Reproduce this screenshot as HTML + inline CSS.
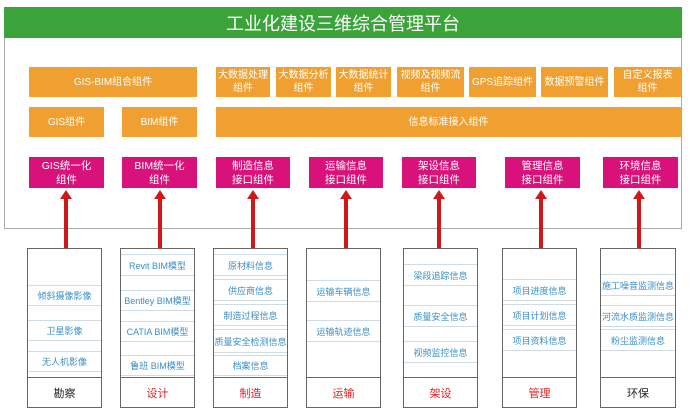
<!DOCTYPE html>
<html><head><meta charset="utf-8"><style>
body{margin:0;width:691px;height:415px;background:#fff;position:relative;overflow:hidden;font-family:"Liberation Sans","Noto Sans CJK SC",sans-serif}
div{position:absolute;box-sizing:border-box}
.o{background:#f0a030;color:#fff;font-size:10px;display:flex;align-items:center;justify-content:center;text-align:center;line-height:13px}
.m{background:#d8127a;color:#fff;font-size:10.5px;display:flex;align-items:center;justify-content:center;text-align:center;line-height:14px;top:157px;height:31px}
.col{top:248px;height:160px;border:1px solid #666;background:#fff}
.lab{left:0;right:0;bottom:0;height:30px;border-top:1px solid #666;font-size:11px;display:flex;align-items:center;justify-content:center}
.it{left:0;right:0;border-top:1px solid #cfdce6;border-bottom:1px solid #cfdce6;font-size:9px;color:#3a8fc9;display:flex;align-items:center;justify-content:center;white-space:nowrap}
.sh{width:4px;background:#d01818;top:198px;height:50px}
.hd{width:0;height:0;border-left:6px solid transparent;border-right:6px solid transparent;border-bottom:9px solid #d01818;top:190px}
</style></head><body>
<div style="left:4px;top:7px;width:678px;height:222px;border:1px solid #aaa"></div>
<div style="left:4px;top:7px;width:678px;height:31px;background:#3aa33a;color:#fff;font-size:18px;display:flex;align-items:center;justify-content:center">工业化建设三维综合管理平台</div>

<div class="o" style="left:29px;top:67px;width:168px;height:30px">GIS-BIM组合组件</div>
<div class="o" style="left:216px;top:67px;width:54px;height:30px">大数据处理<br>组件</div>
<div class="o" style="left:276px;top:67px;width:55px;height:30px">大数据分析<br>组件</div>
<div class="o" style="left:336px;top:67px;width:55px;height:30px">大数据统计<br>组件</div>
<div class="o" style="left:397px;top:67px;width:67px;height:30px">视频及视频流<br>组件</div>
<div class="o" style="left:469px;top:67px;width:67px;height:30px">GPS追踪组件</div>
<div class="o" style="left:541px;top:67px;width:67px;height:30px">数据预警组件</div>
<div class="o" style="left:614px;top:67px;width:67px;height:30px">自定义报表<br>组件</div>

<div class="o" style="left:29px;top:107px;width:75px;height:30px">GIS组件</div>
<div class="o" style="left:122px;top:107px;width:75px;height:30px">BIM组件</div>
<div class="o" style="left:216px;top:107px;width:465px;height:30px">信息标准接入组件</div>

<div class="m" style="left:29px;width:75px">GIS统一化<br>组件</div>
<div class="m" style="left:122px;width:75px">BIM统一化<br>组件</div>
<div class="m" style="left:216px;width:74px">制造信息<br>接口组件</div>
<div class="m" style="left:309px;width:74px">运输信息<br>接口组件</div>
<div class="m" style="left:402px;width:74px">架设信息<br>接口组件</div>
<div class="m" style="left:505px;width:75px">管理信息<br>接口组件</div>
<div class="m" style="left:603px;width:75px">环境信息<br>接口组件</div>

<div class="sh" style="left:64px"></div><div class="hd" style="left:60px"></div>
<div class="sh" style="left:158px"></div><div class="hd" style="left:154px"></div>
<div class="sh" style="left:251px"></div><div class="hd" style="left:247px"></div>
<div class="sh" style="left:344px"></div><div class="hd" style="left:340px"></div>
<div class="sh" style="left:437px"></div><div class="hd" style="left:433px"></div>
<div class="sh" style="left:539px"></div><div class="hd" style="left:535px"></div>
<div class="sh" style="left:637px"></div><div class="hd" style="left:633px"></div>

<div class="col" style="left:27px;width:75px">
<div class="it" style="top:36px;height:21px">倾斜摄像影像</div>
<div class="it" style="top:71px;height:21px">卫星影像</div>
<div class="it" style="top:102px;height:21px">无人机影像</div>
<div class="lab" style="color:#222">勘察</div></div>

<div class="col" style="left:120px;width:75px">
<div class="it" style="top:5px;height:22px">Revit BIM模型</div>
<div class="it" style="top:41px;height:21px">Bentley BIM模型</div>
<div class="it" style="top:72px;height:21px">CATIA BIM模型</div>
<div class="it" style="top:106px;height:21px">鲁班 BIM模型</div>
<div class="lab" style="color:#e02020">设计</div></div>

<div class="col" style="left:213px;width:75px">
<div class="it" style="top:5px;height:22px">原材料信息</div>
<div class="it" style="top:30px;height:22px">供应商信息</div>
<div class="it" style="top:55px;height:22px">制造过程信息</div>
<div class="it" style="top:80px;height:24px">质量安全检测信息</div>
<div class="it" style="top:106px;height:21px">档案信息</div>
<div class="lab" style="color:#e02020">制造</div></div>

<div class="col" style="left:306px;width:75px">
<div class="it" style="top:31px;height:22px">运输车辆信息</div>
<div class="it" style="top:71px;height:22px">运输轨迹信息</div>
<div class="lab" style="color:#e02020">运输</div></div>

<div class="col" style="left:403px;width:75px">
<div class="it" style="top:15px;height:22px">梁段追踪信息</div>
<div class="it" style="top:56px;height:22px">质量安全信息</div>
<div class="it" style="top:92px;height:22px">视频监控信息</div>
<div class="lab" style="color:#e02020">架设</div></div>

<div class="col" style="left:502px;width:75px">
<div class="it" style="top:30px;height:22px">项目进度信息</div>
<div class="it" style="top:55px;height:22px">项目计划信息</div>
<div class="it" style="top:80px;height:22px">项目资料信息</div>
<div class="lab" style="color:#e02020">管理</div></div>

<div class="col" style="left:600px;width:76px">
<div class="it" style="top:25px;height:22px">施工噪音监测信息</div>
<div class="it" style="top:56px;height:22px">河流水质监测信息</div>
<div class="it" style="top:80px;height:22px">粉尘监测信息</div>
<div class="lab" style="color:#222">环保</div></div>
</body></html>
